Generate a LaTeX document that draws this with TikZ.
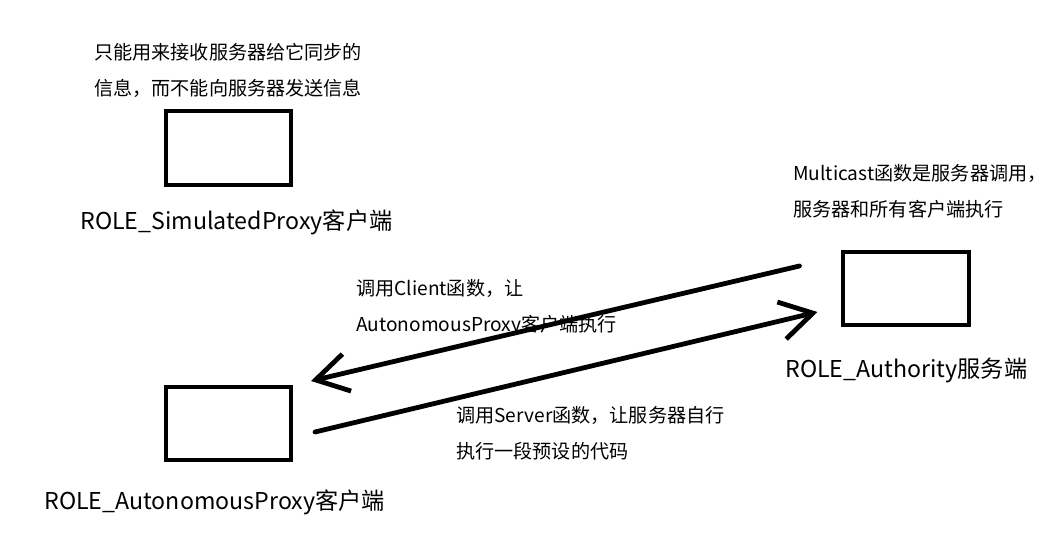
\documentclass[tikz,border=0pt]{standalone}
\usepackage{fontspec}
\setmainfont{Noto Sans CJK SC}
\usetikzlibrary{arrows.meta, positioning, calc}

\begin{document}
\begin{tikzpicture}[x=0.025cm, y=-0.025cm,
    rolebox/.style={draw, line width=0.1cm, minimum width=3.125cm, minimum height=1.825cm, outer sep=0pt, inner sep=0pt},
    note/.style={anchor=west, align=left, inner sep=0pt, font=\fontsize{13.6}{25.6}\selectfont},
    rolelabel/.style={anchor=west, inner sep=0pt, font=\fontsize{16.5}{20}\selectfont},
    call/.style={line width=0.12cm, line cap=round, -{Straight Barb[length=0.8cm, width=0.95cm, line width=0.12cm]}}]
    \useasboundingbox (0,0) rectangle (1060,558);

    % Role boxes
    \node[rolebox] (sim) at (228.5, 148) {};
    \node[rolebox] (auto) at (228.5, 423.5) {};
    \node[rolebox] (auth) at (906, 288.5) {};

    % Role labels
    \node[rolelabel] (simlabel) at (80, 222) {ROLE\_SimulatedProxy客户端};
    \node[rolelabel] (autolabel) at (44, 502) {ROLE\_AutonomousProxy客户端};
    \node[rolelabel] (authlabel) at (785, 370) {ROLE\_Authority服务端};

    % Notes
    \node[note] (simnote) at (94, 70) {只能用来接收服务器给它同步的\\信息，而不能向服务器发送信息};
    \node[note] (authnote) at (793, 191.5) {Multicast函数是服务器调用，\\服务器和所有客户端执行};
    \node[note] (clinote) at (356, 307.5) {调用Client函数，让\\AutonomousProxy客户端执行};
    \node[note] (srvnote) at (456, 433) {调用Server函数，让服务器自行\\执行一段预设的代码};

    % RPC calls
    \coordinate (clistart) at ([shift={(-44,14)}]auth.north west);
    \draw[call] (clistart) -- ([shift={(20,-6)}]auto.north east);
    \draw[call] ([shift={(24,8.5)}]auto.east) -- ([shift={(-26,23.5)}]auth.west);

\end{tikzpicture}
\end{document}
